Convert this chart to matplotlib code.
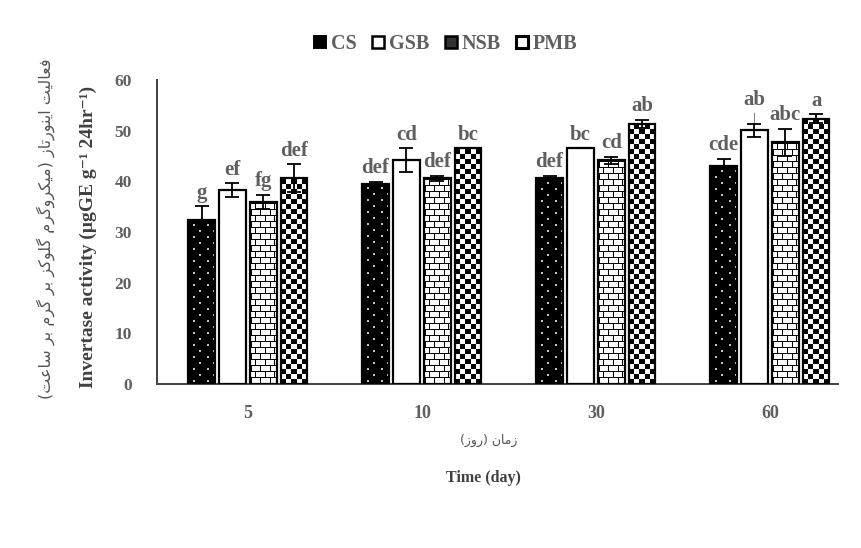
import matplotlib
matplotlib.use("Agg")
import matplotlib.pyplot as plt
import numpy as np
from matplotlib.patches import Patch

times = ["5", "10", "30", "60"]
series = ["CS", "GSB", "NSB", "PMB"]

cs = [32.3, 39.5, 40.6, 43.0]
gsb = [38.3, 44.2, 46.5, 50.1]
nsb = [35.9, 40.6, 44.2, 47.7]
pmb = [40.6, 46.5, 51.3, 52.4]

cs_err = [2.8, 0.4, 0.5, 1.4]
gsb_err = [1.35, 2.3, 0.0, 1.3]
nsb_err = [1.4, 0.5, 0.7, 2.7]
pmb_err = [2.8, 0.0, 0.8, 0.8]

cs_letters = ["g", "def", "def", "cde"]
gsb_letters = ["ef", "cd", "bc", "ab"]
nsb_letters = ["fg", "def", "cd", "abc"]
pmb_letters = ["def", "bc", "ab", "a"]

ylabel_en = "Invertase activity (µgGE g⁻¹ 24hr⁻¹)"
ylabel_fa = "فعالیت اینورتاز (میکروگرم گلوکز بر گرم بر ساعت)"
xlabel_fa = "زمان (روز)"
xlabel_en = "Time (day)"

# --- minimal persian shaping (matplotlib has no complex text layout)
FORMS = {
    "ا": ("\uFE8D", "\uFE8E", None, None),
    "ب": ("\uFE8F", "\uFE90", "\uFE91", "\uFE92"),
    "ت": ("\uFE95", "\uFE96", "\uFE97", "\uFE98"),
    "ر": ("\uFEAD", "\uFEAE", None, None),
    "ز": ("\uFEAF", "\uFEB0", None, None),
    "س": ("\uFEB1", "\uFEB2", "\uFEB3", "\uFEB4"),
    "ع": ("\uFEC9", "\uFECA", "\uFECB", "\uFECC"),
    "ف": ("\uFED1", "\uFED2", "\uFED3", "\uFED4"),
    "ل": ("\uFEDD", "\uFEDE", "\uFEDF", "\uFEE0"),
    "م": ("\uFEE1", "\uFEE2", "\uFEE3", "\uFEE4"),
    "ن": ("\uFEE5", "\uFEE6", "\uFEE7", "\uFEE8"),
    "و": ("\uFEED", "\uFEEE", None, None),
    "ک": ("\uFB8E", "\uFB8F", "\uFB90", "\uFB91"),
    "گ": ("\uFB92", "\uFB93", "\uFB94", "\uFB95"),
    "ی": ("\uFBFC", "\uFBFD", "\uFBFE", "\uFBFF"),
}


def shape_fa(text):
    out = []
    for i, ch in enumerate(text):
        if ch not in FORMS:
            out.append(ch)
            continue
        prev = text[i - 1] if i > 0 else ""
        nxt = text[i + 1] if i + 1 < len(text) else ""
        join_prev = prev in FORMS and FORMS[prev][2] is not None
        join_next = FORMS[ch][2] is not None and nxt in FORMS
        iso, fin, ini, med = FORMS[ch]
        if join_prev and join_next:
            out.append(med)
        elif join_prev:
            out.append(fin)
        elif join_next:
            out.append(ini)
        else:
            out.append(iso)
    s = "".join(out)[::-1]
    return s.replace("(", "\0").replace(")", "(").replace("\0", ")")


def tile_fill(ax, bar, tile, px_per_unit, ncols=26):
    # paint a pixel tile inside the bar, clipped to the bar outline
    x0, w, h = bar.get_x(), bar.get_width(), bar.get_height()
    th, tw = tile.shape
    nrows = int(np.ceil(h * px_per_unit / th)) + 1
    reps_x = int(np.ceil(ncols / tw))
    pat = np.tile(tile, (nrows, reps_x))[:, :ncols]
    top = pat.shape[0] / px_per_unit
    im = ax.imshow(pat, extent=[x0, x0 + w, 0, top], origin="lower", cmap="gray",
                   vmin=0, vmax=1, interpolation="nearest", aspect="auto", zorder=2)
    im.set_clip_path(bar)


def dots_tile():
    t = np.zeros((12, 13))
    t[2:4, 5:7] = 0.75
    t[8:10, 11:13] = 0.75
    return t


def brick_tile():
    t = np.ones((12, 18))
    t[0, :] = 0
    t[6, :] = 0
    t[0:6, 1] = 0
    t[0:6, 10] = 0
    t[6:12, 5:6] = 0
    t[6:12, 14:15] = 0
    return t


def checker_tile():
    t = np.ones((10, 10))
    t[0:5, 0:5] = 0
    t[5:10, 5:10] = 0
    return t


serif = ["Liberation Serif", "DejaVu Serif"]
grey = "#5f5f5f"
dark = "#404040"

fig = plt.figure(figsize=(8.61, 5.48), dpi=100)
ax = fig.add_axes([0.1823, 0.2993, 0.791, 0.5547])

x = np.arange(len(times))
width = 0.15
step = 0.178
values = [cs, gsb, nsb, pmb]
errs = [cs_err, gsb_err, nsb_err, pmb_err]
letters = [cs_letters, gsb_letters, nsb_letters, pmb_letters]
tiles = [dots_tile(), None, brick_tile(), checker_tile()]

ax.set_xlim(-0.523, 3.391)
ax.set_ylim(0, 60)
px_per_unit = 304 / 60

for k in range(4):
    pos = x + (k - 1.5) * step
    ax.bar(pos, values[k], width, color="white", linewidth=0, zorder=1)
    bars = ax.bar(pos, values[k], width, facecolor="none", edgecolor="black",
                  linewidth=1.6, zorder=3)
    if tiles[k] is not None:
        for b in bars:
            tile_fill(ax, b, tiles[k], px_per_unit)
    e = np.array(errs[k])
    m = e > 0
    ax.errorbar(pos[m], np.array(values[k])[m], yerr=e[m], fmt="none", ecolor="black",
                elinewidth=1.3, capsize=5, capthick=1.3, zorder=4)
    for i in range(len(times)):
        top = values[k][i] + errs[k][i]
        if k == 1 and i == 3:
            ax.annotate(letters[k][i], xy=(pos[i], top), xytext=(pos[i], top + 2.6),
                        ha="center", va="bottom", fontsize=15, fontweight="bold",
                        family=serif, color=grey,
                        arrowprops=dict(arrowstyle="-", color="#888888", lw=0.8,
                                        shrinkA=0, shrinkB=0))
        else:
            ax.text(pos[i], top + 0.7, letters[k][i], ha="center", va="bottom",
                    fontsize=15, fontweight="bold", family=serif, color=grey)

ax.set_xlim(-0.523, 3.391)
ax.set_ylim(0, 60)
ax.set_xticks(x)
ax.set_xticklabels(times)
ax.set_yticks(range(0, 61, 10))
ax.tick_params(length=0)
ax.tick_params(axis="y", pad=18, labelsize=12.5)
ax.tick_params(axis="x", pad=15, labelsize=13)
for lab in ax.get_xticklabels() + ax.get_yticklabels():
    lab.set_family(serif)
    lab.set_fontweight("bold")
    lab.set_color(grey)
for s in ["top", "right"]:
    ax.spines[s].set_visible(False)
for s in ["left", "bottom"]:
    ax.spines[s].set_color(dark)
    ax.spines[s].set_linewidth(1.4)

fig.text(88 / 861, 1 - 237 / 548, ylabel_en, rotation=90,
         ha="center", va="center", fontsize=14, fontweight="bold", family=serif,
         color=dark)
fig.text(46 / 861, 1 - 229 / 548, shape_fa(ylabel_fa), rotation=90,
         ha="center", va="center", fontsize=11.5, family=["DejaVu Sans"], color="#555555")
fig.text(489 / 861, 1 - 440 / 548, shape_fa(xlabel_fa),
         ha="center", va="center", fontsize=9, family=["DejaVu Sans"], color="#555555")
fig.text(483 / 861, 1 - 478 / 548, xlabel_en,
         ha="center", va="center", fontsize=11.5, fontweight="bold", family=serif,
         color=dark)

handles = [
    Patch(facecolor="black", edgecolor="black", linewidth=1.4),
    Patch(facecolor="white", edgecolor="black", linewidth=1.8),
    Patch(facecolor="#333333", edgecolor="black", linewidth=1.8),
    Patch(facecolor="white", edgecolor="black", linewidth=2.2),
]
fig.legend(handles, series, loc="center", bbox_to_anchor=(0.518, 1 - 44 / 548),
           ncol=4, frameon=False, handlelength=0.6, handleheight=0.6,
           handletextpad=0.25, columnspacing=0.75,
           prop={"family": serif, "weight": "bold", "size": 14.5}, labelcolor=grey)

fig.savefig("out.png", dpi=100)
